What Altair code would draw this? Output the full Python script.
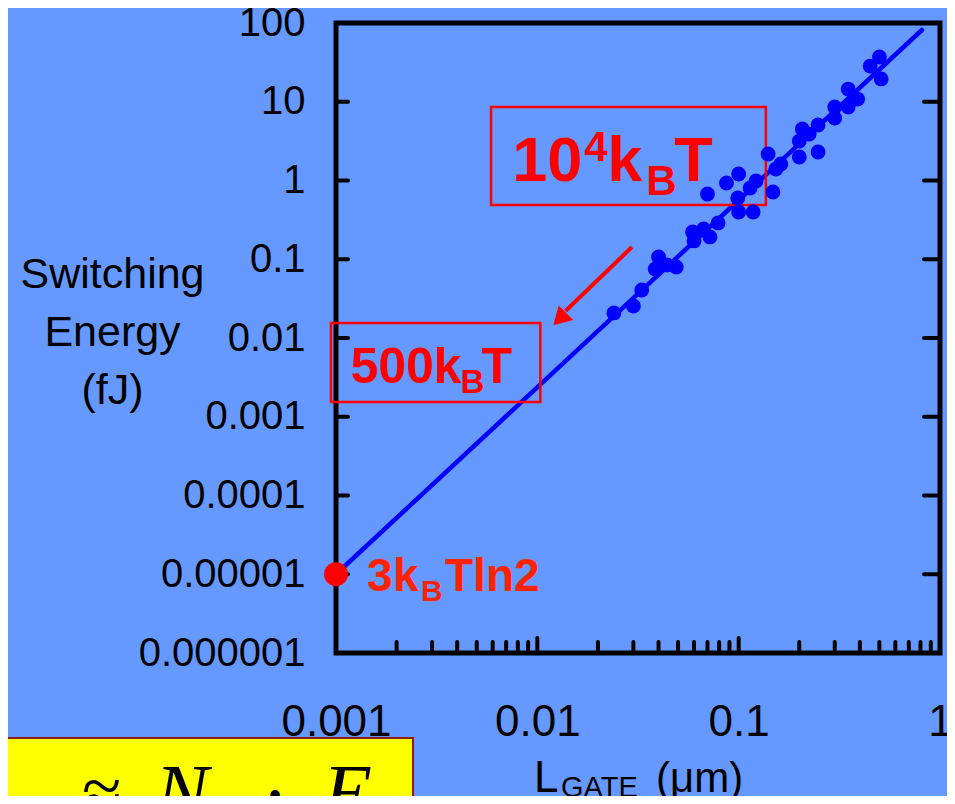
import altair as alt
import pandas as pd

# ---------------- data ----------------
L_GATE_UM = [0.024, 0.030, 0.033, 0.040, 0.0385, 0.044, 0.049, 0.059, 0.060, 0.067,
             0.072, 0.079, 0.070, 0.087, 0.100, 0.099, 0.100, 0.118, 0.114, 0.122,
             0.140, 0.153, 0.148, 0.162, 0.200, 0.200, 0.207, 0.248, 0.248, 0.300,
             0.300, 0.350, 0.350, 0.390, 0.450, 0.500, 0.510, 0.224]
ENERGY_FJ = [0.0208, 0.0255, 0.0407, 0.107, 0.0752, 0.0845, 0.0798, 0.222, 0.171, 0.242,
             0.192, 0.289, 0.674, 0.929, 1.21, 0.600, 0.398, 0.398, 0.803, 0.986,
             2.17, 1.40, 0.714, 1.62, 3.17, 1.99, 4.51, 5.07, 2.30, 8.58,
             6.22, 14.5, 8.58, 10.8, 28.4, 37.0, 19.5, 3.89]

FIT_X = [0.001, 0.813]
FIT_Y = [1e-5, 81.5]

LIMIT_X = [0.001]
LIMIT_Y = [1e-5]

X_TICKS = [0.001, 0.01, 0.1, 1]
Y_TICKS = [100, 10, 1, 0.1, 0.01, 0.001, 0.0001, 0.00001, 0.000001]
X_MINOR = [0.002, 0.003, 0.004, 0.005, 0.006, 0.007, 0.008, 0.009,
           0.02, 0.03, 0.04, 0.05, 0.06, 0.07, 0.08, 0.09,
           0.2, 0.3, 0.4, 0.5, 0.6, 0.7, 0.8, 0.9]
X_MAJOR_INNER = [0.01, 0.1]
Y_INNER = [10, 1, 0.1, 0.01, 0.001, 0.0001, 0.00001]

# annotation boxes (data coordinates)
BOX_X = [0.00589, 0.000944]
BOX_X2 = [0.1365, 0.01035]
BOX_Y = [0.489, 0.00154]
BOX_Y2 = [8.58, 0.0155]

# arrow (data coordinates)
ARROW_X = [0.0295]
ARROW_Y = [0.143]
ARROW_X2 = [0.0138]
ARROW_Y2 = [0.0220]
HEAD_X = [0.0129]
HEAD_Y = [0.0174]

# label anchors (data coordinates)
LBL1_X, LBL1_Y = [0.0075], [1.0]
LBL2_X, LBL2_Y = [0.00118], [0.00268]

RED = "#FF0000"
BLUE = "#0000FF"
FONT = "Liberation Sans"

xs = alt.Scale(type="log", domain=[0.001, 1], nice=False)
ys = alt.Scale(type="log", domain=[1e-6, 100], nice=False)

XAXIS = alt.Axis(values=X_TICKS, format=".3~f", ticks=False, domain=False, grid=False,
                 title=None, labelFontSize=44, labelFont=FONT, labelColor="black",
                 labelBaseline="alphabetic", labelPadding=82, labelFlush=False,
                 labelOverlap=False, tickSize=0)
YAXIS = alt.Axis(values=Y_TICKS, format=".6~f", ticks=False, domain=False, grid=False,
                 labelFontSize=40, labelFont=FONT, labelColor="black",
                 labelPadding=31, labelFlush=False, labelOverlap=False, tickSize=0,
                 title=["Switching", "Energy", "(fJ)"], titleAngle=0,
                 titleAlign="center", titleBaseline="alphabetic", titleX=-224,
                 titleY=264, titleLineHeight=58, titleFontSize=43,
                 titleFont=FONT, titleFontWeight="normal", titleColor="black")

pts = pd.DataFrame({"x": L_GATE_UM, "y": ENERGY_FJ})
fit = pd.DataFrame({"x": FIT_X, "y": FIT_Y})
lim = pd.DataFrame({"x": LIMIT_X, "y": LIMIT_Y})
boxes = pd.DataFrame({"x": BOX_X, "x2": BOX_X2, "y": BOX_Y, "y2": BOX_Y2})
arrow = pd.DataFrame({"x": ARROW_X, "y": ARROW_Y, "x2": ARROW_X2, "y2": ARROW_Y2})
head = pd.DataFrame({"x": HEAD_X, "y": HEAD_Y})
one = pd.DataFrame({"a": [0]})


def X(field="x"):
    return alt.X(f"{field}:Q", scale=xs, axis=XAXIS)


def Y(field="y"):
    return alt.Y(f"{field}:Q", scale=ys, axis=YAXIS)


# yellow formula box (decoration, bottom-left)
ybox = alt.Chart(one).mark_rect(fill="#FFFF00", stroke="#8B1A1A", strokeWidth=2).encode(
    x=alt.value(-340), x2=alt.value(77), y=alt.value(715), y2=alt.value(820))


def formula(txt, px, py, size, style="italic"):
    return alt.Chart(one).mark_text(text=txt, font="Liberation Serif", fontStyle=style,
                                    fontSize=size, align="left", baseline="alphabetic",
                                    color="black").encode(x=alt.value(px), y=alt.value(py))


f_parts = [formula("≈", -254, 794, 72, "normal"), formula("N", -181, 797, 80),
           formula("•", -68, 786, 40, "normal"), formula("E", -13, 797, 80)]

fit_line = alt.Chart(fit).mark_line(color=BLUE, strokeWidth=4.5, strokeCap="round").encode(
    x=X(), y=Y())

box_layer = alt.Chart(boxes).mark_rect(fillOpacity=0, stroke=RED, strokeWidth=2.5).encode(
    x=X(), x2="x2:Q", y=Y(), y2="y2:Q")

arrow_line = alt.Chart(arrow).mark_rule(color=RED, strokeWidth=4).encode(
    x=X(), y=Y(), x2="x2:Q", y2="y2:Q")
arrow_head = alt.Chart(head).mark_point(shape="triangle-up", angle=225, size=420,
                                        filled=True, color=RED, opacity=1).encode(x=X(), y=Y())

points = alt.Chart(pts).mark_circle(size=220, color=BLUE, opacity=1).encode(x=X(), y=Y())

red_dot = alt.Chart(lim).mark_circle(size=570, color=RED, opacity=1).encode(x=X(), y=Y())

# inward tick marks
yt = pd.DataFrame({"y": Y_INNER})
left_ticks = alt.Chart(yt).mark_rule(color="black", strokeWidth=4, strokeCap="round").encode(
    y=Y(), x=alt.value(0), x2=alt.value(12))
right_ticks = alt.Chart(yt).mark_rule(color="black", strokeWidth=4, strokeCap="round").encode(
    y=Y(), x=alt.value(588), x2=alt.value(604))
minor_ticks = alt.Chart(pd.DataFrame({"x": X_MINOR})).mark_rule(
    color="black", strokeWidth=4, strokeCap="round").encode(
    x=X(), y=alt.value(630), y2=alt.value(619))
major_ticks = alt.Chart(pd.DataFrame({"x": X_MAJOR_INNER})).mark_rule(
    color="black", strokeWidth=4, strokeCap="round").encode(
    x=X(), y=alt.value(630), y2=alt.value(615))


def piece(df, txt, size, dx, dy, color=RED, weight="bold"):
    return alt.Chart(df).mark_text(text=txt, fontSize=size, dx=dx, dy=dy, font=FONT,
                                   fontWeight=weight, color=color, align="left",
                                   baseline="alphabetic").encode(x=X(), y=Y())


a1 = pd.DataFrame({"x": LBL1_X, "y": LBL1_Y})
a2 = pd.DataFrame({"x": LBL2_X, "y": LBL2_Y})
lbl1 = [piece(a1, "10", 63, 0, 0), piece(a1, "4", 42, 72, -20), piece(a1, "k", 63, 95, 0),
        piece(a1, "B", 42, 134, 14), piece(a1, "T", 63, 162, 0)]
lbl2 = [piece(a2, "500", 50, 0, 0), piece(a2, "k", 50, 83, 0), piece(a2, "B", 33, 110, 10),
        piece(a2, "T", 50, 131, 0)]
C3 = "#FF2200"
lbl3 = [piece(lim, "3", 46, 31, 17, C3), piece(lim, "k", 46, 57, 17, C3),
        piece(lim, "B", 30, 85, 27, C3), piece(lim, "Tln2", 46, 109, 17, C3)]


def title_piece(txt, px, py, size):
    return alt.Chart(one).mark_text(text=txt, fontSize=size, font=FONT, color="black",
                                    align="left", baseline="alphabetic").encode(
        x=alt.value(px), y=alt.value(py))


xtitle = [title_piece("L", 198, 769, 44), title_piece("GATE", 225, 774, 29),
          title_piece("(μm)", 320, 769, 42)]

chart = alt.layer(
    ybox, *f_parts, fit_line, box_layer, arrow_line, arrow_head, points,
    left_ticks, right_ticks, minor_ticks, major_ticks, red_dot,
    *lbl1, *lbl2, *lbl3, *xtitle
).properties(
    width=604, height=630,
    padding={"left": 328, "top": 15, "right": 7, "bottom": 143},
    autosize=alt.AutoSizeParams(type="none"),
    background="#6699FF",
).configure_view(stroke="black", strokeWidth=5)

chart.save("out.html", embed_options={"renderer": "svg", "actions": False})
